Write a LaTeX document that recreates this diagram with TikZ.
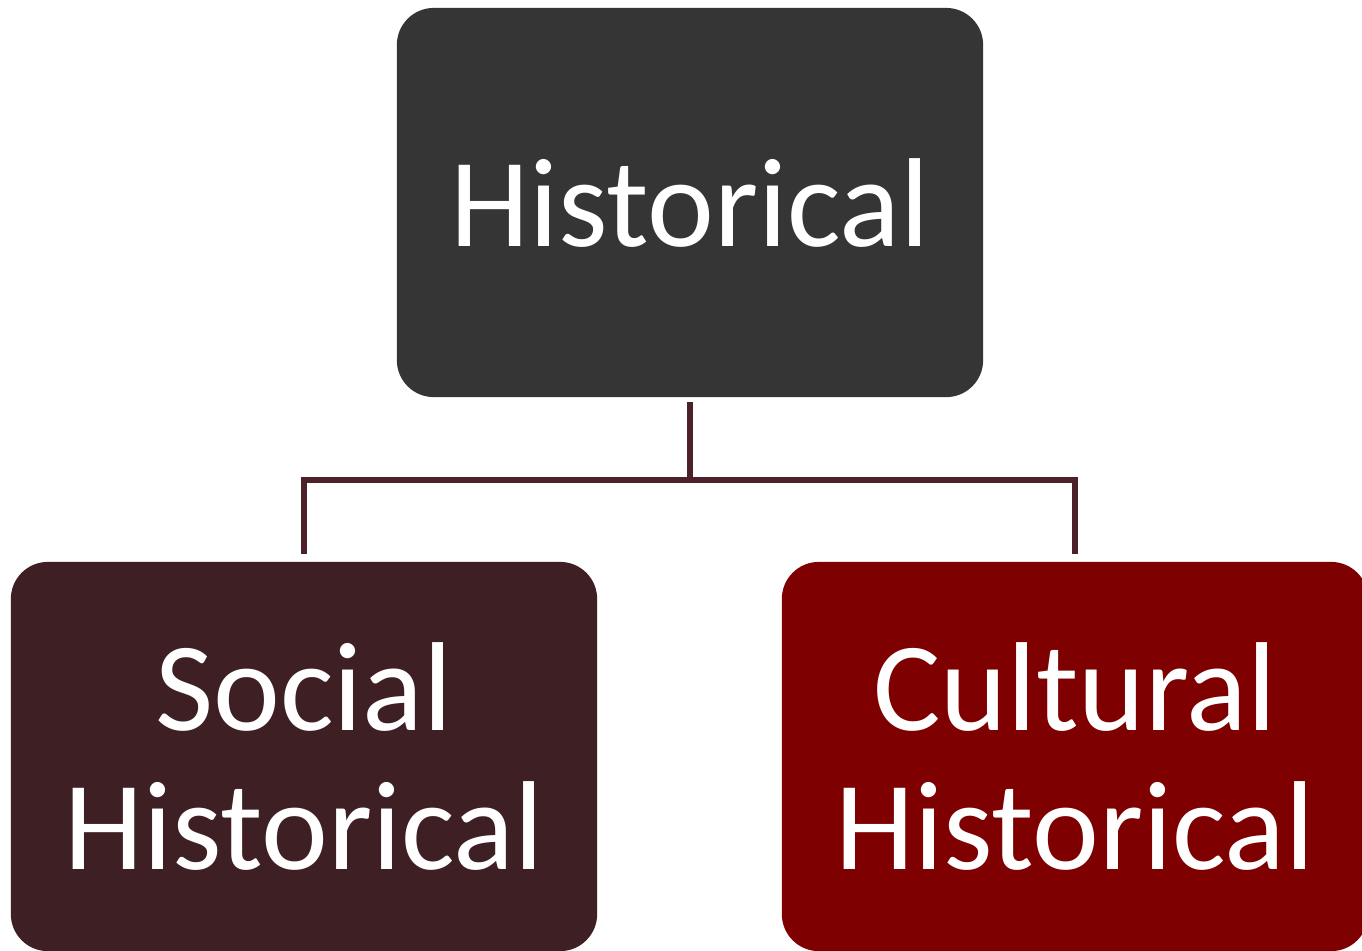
\documentclass[tikz,border=0pt]{standalone}
\usepackage{fontspec}
\setmainfont{Carlito}
\usetikzlibrary{positioning}
\definecolor{topgray}{RGB}{53,53,53}
\definecolor{socialred}{RGB}{62,31,36}
\definecolor{culturalred}{RGB}{127,0,0}
\definecolor{linkred}{RGB}{76,33,41}

\begin{document}
\begin{tikzpicture}[x=0.01cm,y=-0.01cm,semithick]
\tikzstyle{box}=[rounded corners=0.37cm,minimum width=5.86cm,minimum height=3.89cm,inner sep=0pt,text=white,align=center,font=\fontsize{36}{39.5}\selectfont]
\tikzstyle{link}=[draw=linkred,line width=1.45pt]

\useasboundingbox (0,0) rectangle (1362,950);
\clip (0,0) rectangle (1362,950);

\node[box,fill=topgray] (H) at (690,202.5) {Historical};
\node[box,fill=socialred] (S) at (304,756.5) {Social\\Historical};
\node[box,fill=culturalred] (C) at (1075,756.5) {Cultural\\Historical};

\coordinate (mid) at (690,480);
\draw[link,shorten <=1.1pt] (H.south) -- (mid);
\draw[link,shorten >=2pt] (mid) -| (S.north);
\draw[link,shorten >=2pt] (mid) -| (C.north);
\end{tikzpicture}
\end{document}
